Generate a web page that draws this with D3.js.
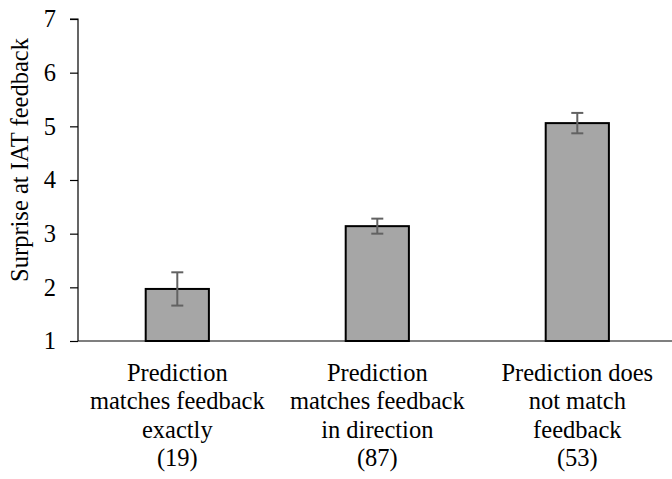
<!DOCTYPE html>
<html>
<head>
<meta charset="utf-8">
<script src="https://cdn.jsdelivr.net/npm/d3@7"></script>
<style>
  html, body { margin: 0; padding: 0; background: #fff; }
  svg { display: block; }
</style>
</head>
<body>
<svg id="chart" width="672" height="479"></svg>
<script>
// Mean surprise ratings with standard error, by prediction accuracy group
const categories = [
  ["Prediction", "matches feedback", "exactly", "(19)"],
  ["Prediction", "matches feedback", "in direction", "(87)"],
  ["Prediction does", "not match", "feedback", "(53)"]
];
const means = [1.97, 3.14, 5.06];
const errors = [0.31, 0.14, 0.19];
const yTicks = [1, 2, 3, 4, 5, 6, 7];

const FONT = "'Times New Roman', Tinos, 'Liberation Serif', 'DejaVu Serif', serif";
const svg = d3.select("#chart").style("font-family", FONT);
const margin = { left: 78, top: 19, right: 0, bottom: 138 };
const width = 672, height = 479;
const fontSize = 24.5;

const x = d3.scaleBand()
  .domain(d3.range(categories.length))
  .range([margin.left - 0.7, margin.left - 0.7 + 600])
  .paddingInner(0.684)
  .paddingOuter(0.342);

const y = d3.scaleLinear()
  .domain([1, 7])
  .range([height - margin.bottom, margin.top]);

// Bars
svg.append("g")
  .selectAll("rect")
  .data(means)
  .join("rect")
  .attr("x", (d, i) => x(i))
  .attr("y", d => y(d))
  .attr("width", x.bandwidth())
  .attr("height", d => y(1) - y(d))
  .attr("fill", "#a6a6a6")
  .attr("stroke", "#000")
  .attr("stroke-width", 2);

// Error bars
const eb = svg.append("g")
  .attr("stroke", "#626262")
  .attr("stroke-width", 2)
  .attr("fill", "none");
means.forEach((m, i) => {
  const cx = x(i) + x.bandwidth() / 2;
  const capHalf = 6;
  eb.append("line")
    .attr("x1", cx).attr("x2", cx)
    .attr("y1", y(m - errors[i])).attr("y2", y(m + errors[i]));
  [m - errors[i], m + errors[i]].forEach(v => {
    eb.append("line")
      .attr("x1", cx - capHalf).attr("x2", cx + capHalf)
      .attr("y1", y(v)).attr("y2", y(v));
  });
});

// Y axis
const yAxis = d3.axisLeft(y)
  .tickValues(yTicks)
  .tickFormat(d3.format("d"))
  .tickSizeInner(8)
  .tickSizeOuter(8)
  .tickPadding(14);
const gy = svg.append("g")
  .attr("transform", `translate(${margin.left},0)`)
  .call(yAxis)
  .attr("font-family", null)
  .attr("font-size", fontSize);
gy.selectAll("path, line").attr("stroke", "#000").attr("stroke-width", 1.2);
gy.select(".domain").attr("d", `M-8,${y(7)}H0V${y(1)}`);
gy.selectAll("text").attr("fill", "#000").style("font-family", FONT);

// X axis baseline
svg.append("line")
  .attr("x1", margin.left).attr("x2", width)
  .attr("y1", y(1)).attr("y2", y(1))
  .attr("stroke", "#000")
  .attr("stroke-width", 1.2);

// Category labels
const lineGap = 28.4;
const labels = svg.append("g")
  .attr("text-anchor", "middle")
  .style("font-family", FONT)
  .attr("font-size", fontSize);
categories.forEach((lines, i) => {
  const cx = x(i) + x.bandwidth() / 2;
  const t = labels.append("text").attr("x", cx).attr("y", 381);
  lines.forEach((s, j) => {
    t.append("tspan")
      .attr("x", cx)
      .attr("y", 381 + j * lineGap)
      .text(s);
  });
});

// Y axis title
svg.append("text")
  .attr("transform", `translate(28,${(y(1) + y(7)) / 2 - 20}) rotate(-90)`)
  .attr("text-anchor", "middle")
  .style("font-family", FONT)
  .attr("font-size", fontSize)
  .text("Surprise at IAT feedback");
</script>
</body>
</html>
